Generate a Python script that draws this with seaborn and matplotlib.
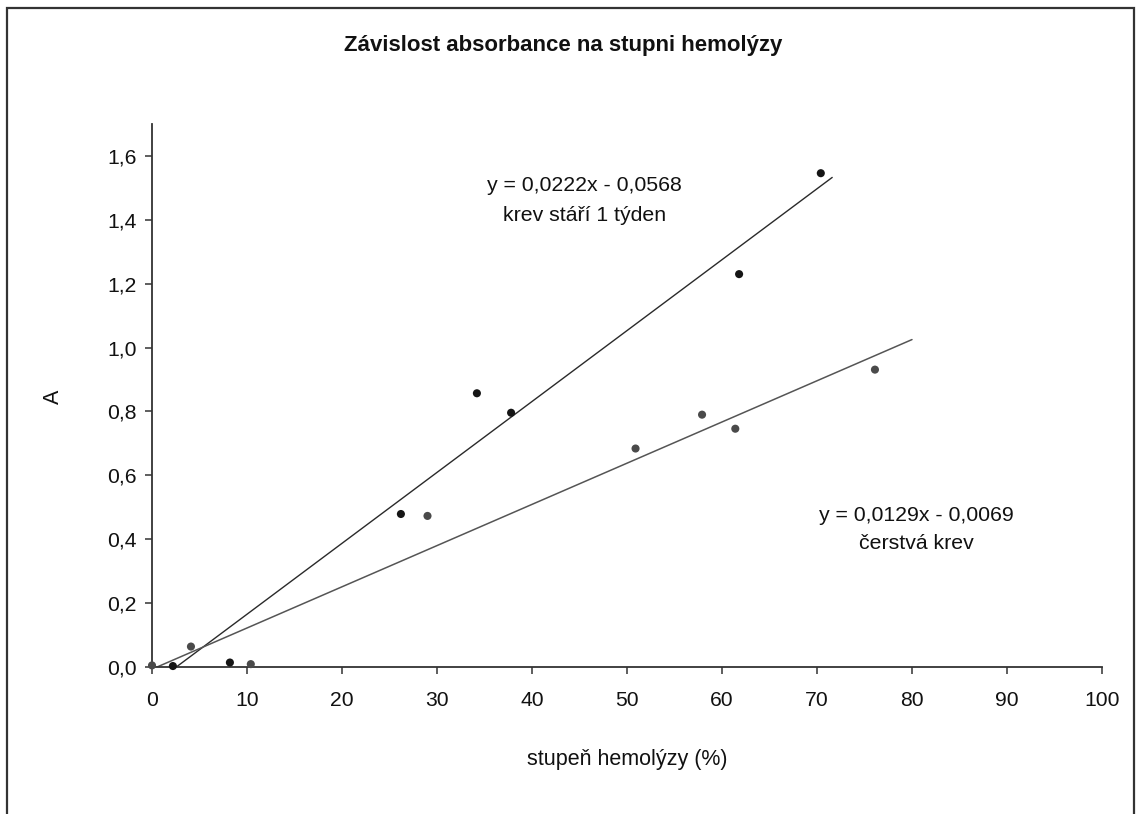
import numpy as np
import pandas as pd
import matplotlib
matplotlib.use("Agg")
import matplotlib.pyplot as plt
from matplotlib.patches import Rectangle
import seaborn as sns

# Measured points: degree of hemolysis (%) vs absorbance
week_x = [2.2, 8.2, 26.2, 34.2, 37.8, 61.8, 70.4]
week_y = [0.003, 0.014, 0.479, 0.857, 0.796, 1.230, 1.546]
fresh_x = [0.0, 4.1, 10.4, 29.0, 50.9, 57.9, 61.4, 76.1]
fresh_y = [0.005, 0.064, 0.009, 0.473, 0.684, 0.790, 0.746, 0.931]

# Linear trend coefficients (slope, intercept) and plotted x-range
week_fit = (0.0222, -0.0568)
fresh_fit = (0.0129, -0.0069)
week_range = [0.0, 71.6]
fresh_range = [0.0, 80.0]

week_label = ["y = 0,0222x - 0,0568", "krev stáří 1 týden"]
fresh_label = ["y = 0,0129x - 0,0069", "čerstvá krev"]

x_ticks = list(range(0, 101, 10))
y_ticks = [0.0, 0.2, 0.4, 0.6, 0.8, 1.0, 1.2, 1.4, 1.6]

sns.set_theme(style="white")
plt.rcParams["font.family"] = ["Liberation Sans", "DejaVu Sans"]

W, H = 1136, 814
fig = plt.figure(figsize=(W / 100, H / 100), dpi=100)
ax = fig.add_axes([152 / W, 1 - 667 / H, (1102 - 152) / W, (667 - 124) / H])

week = pd.DataFrame({"x": week_x, "y": week_y})
fresh = pd.DataFrame({"x": fresh_x, "y": fresh_y})

def trend(rng, fit):
    xs = np.array(rng)
    return pd.DataFrame({"x": xs, "y": fit[0] * xs + fit[1]})

sns.lineplot(data=trend(week_range, week_fit), x="x", y="y", ax=ax,
             color="#2a2a2a", linewidth=1.0, zorder=2)
sns.lineplot(data=trend(fresh_range, fresh_fit), x="x", y="y", ax=ax,
             color="#555555", linewidth=1.1, zorder=2)
sns.scatterplot(data=week, x="x", y="y", ax=ax, color="#151515", s=34,
                edgecolor="none", zorder=3, clip_on=False)
sns.scatterplot(data=fresh, x="x", y="y", ax=ax, color="#4a4a4a", s=34,
                edgecolor="none", zorder=3, clip_on=False)

ax.set_xlim(0, 100)
ax.set_ylim(0, 1.7)
ax.set_xticks(x_ticks)
ax.set_xticklabels([str(t) for t in x_ticks])
ax.set_yticks(y_ticks)
ax.set_yticklabels([f"{t:.1f}".replace(".", ",") for t in y_ticks])

for side in ("top", "right"):
    ax.spines[side].set_visible(False)
for side in ("left", "bottom"):
    ax.spines[side].set_color("#333333")
    ax.spines[side].set_linewidth(1.3)

ax.tick_params(axis="both", which="major", direction="out", length=5,
               width=1.1, color="#333333", labelsize=15.2, labelcolor="#111111",
               bottom=True, left=True, pad=6)
ax.tick_params(axis="x", pad=12)

ax.set_xlabel("stupeň hemolýzy (%)", fontsize=15.5, color="#111111", va="center")
ax.xaxis.set_label_coords(0.5, -(760 - 667) / (667 - 124))
ax.set_ylabel("A", fontsize=15.5, color="#111111", va="center")
ax.yaxis.set_label_coords((53 - 152) / (1102 - 152), (667 - 397) / (667 - 124))

fig.text(563 / W, 1 - 45 / H, "Závislost absorbance na stupni hemolýzy",
         ha="center", va="center", fontsize=16, fontweight="bold", color="#111111")

# Trendline equations and series names
ax.text(45.5, 1.506, week_label[0], ha="center", va="center", fontsize=15.3, color="#111111")
ax.text(45.5, 1.414, week_label[1], ha="center", va="center", fontsize=15.3, color="#111111")
ax.text(80.5, 0.475, fresh_label[0], ha="center", va="center", fontsize=15.3, color="#111111")
ax.text(80.5, 0.388, fresh_label[1], ha="center", va="center", fontsize=15.3, color="#111111")

# Outer chart frame (open at the bottom edge of the canvas)
fig.patches.append(Rectangle((7 / W, -0.05), (1134 - 7) / W, 1 - 8 / H + 0.05,
                             transform=fig.transFigure, fill=False,
                             edgecolor="#333333", linewidth=1.6))

ax.set_facecolor("white")
fig.patch.set_facecolor("white")
fig.savefig("out.png", dpi=100)
